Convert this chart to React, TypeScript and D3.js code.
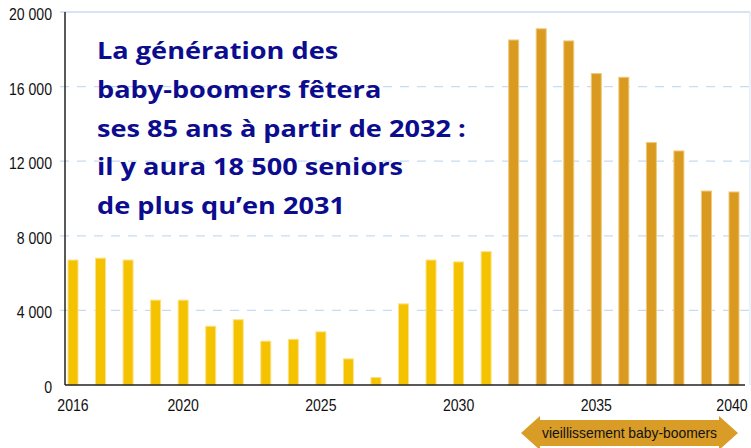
import React, { useEffect, useRef } from 'react';
import * as d3 from 'd3';

// Données
const years = d3.range(2016, 2041);
const seniors = [
  6700, 6800, 6700, 4550, 4550, 3150, 3500, 2350, 2450, 2850, 1400, 400,
  4350, 6700, 6600, 7150,
  18500, 19100, 18450, 16700, 16500, 13000, 12550, 10400, 10350
];
const yTicks = [0, 4000, 8000, 12000, 16000, 20000];
const xTickYears = [2016, 2020, 2025, 2030, 2035, 2040];
const titleLines = [
  'La génération des',
  'baby-boomers fêtera',
  'ses 85 ans à partir de 2032 :',
  'il y aura 18 500 seniors',
  'de plus qu’en 2031'
];
const arrowLabel = 'vieillissement baby-boomers';

export default function App() {
  const svgRef = useRef<SVGSVGElement>(null);
  const width = 751;
  const height = 448;

  useEffect(() => {
    if (!svgRef.current) return;
    const svg = d3.select(svgRef.current);
    svg.selectAll('*').remove();

    const x = d3.scalePoint<number>().domain(years).range([73, 734]);
    const y = d3.scaleLinear().domain([0, 20000]).range([385, 12]);
    const fmt = (v: number) => d3.format(',')(v).replace(',', ' ');
    const axisFont = 'Liberation Sans, Arial, sans-serif';

    // condense les libellés d'axe (police étroite dans l'original)
    const condense = function (this: SVGTextElement) {
      const len = this.getComputedTextLength();
      d3.select(this).attr('textLength', len * 0.88).attr('lengthAdjust', 'spacingAndGlyphs');
    };

    // Grille
    svg.append('g')
      .selectAll('line')
      .data(yTicks.filter(d => d > 0))
      .enter().append('line')
      .attr('x1', 60)
      .attr('x2', 750)
      .attr('y1', d => y(d))
      .attr('y2', d => y(d))
      .attr('stroke', '#c8dbf0')
      .attr('stroke-width', 1.3)
      .attr('stroke-dasharray', d => (d === 20000 ? null : '9,8'));

    svg.append('line')
      .attr('x1', 750).attr('x2', 750)
      .attr('y1', 12).attr('y2', 385)
      .attr('stroke', '#d5e3f3');

    // Étiquettes de l'axe Y
    svg.append('g')
      .selectAll('text')
      .data(yTicks)
      .enter().append('text')
      .attr('x', 52)
      .attr('y', d => y(d) + 8)
      .attr('text-anchor', 'end')
      .style('font-family', axisFont)
      .style('font-size', '16px')
      .attr('fill', '#111')
      .text(d => fmt(d))
      .each(condense);

    // Barres
    const bw = 10;
    svg.append('g')
      .selectAll('rect')
      .data(years)
      .enter().append('rect')
      .attr('x', d => (x(d) || 0) - bw / 2)
      .attr('y', (d, i) => y(seniors[i]))
      .attr('width', bw)
      .attr('height', (d, i) => y(0) - y(seniors[i]))
      .attr('fill', d => (d >= 2032 ? '#d99a1f' : '#f5c200'))
      .attr('stroke', d => (d >= 2032 ? '#efc97c' : '#fbe187'))
      .attr('stroke-width', 1);

    // Axes
    svg.append('line')
      .attr('x1', 65).attr('x2', 65)
      .attr('y1', 12).attr('y2', 385)
      .attr('stroke', '#222').attr('stroke-width', 1.5);
    svg.append('line')
      .attr('x1', 65).attr('x2', 745)
      .attr('y1', 385).attr('y2', 385)
      .attr('stroke', '#222').attr('stroke-width', 1.5);

    svg.append('g')
      .selectAll('text')
      .data(xTickYears)
      .enter().append('text')
      .attr('x', d => Math.min(x(d) || 0, width - 19))
      .attr('y', 411)
      .attr('text-anchor', 'middle')
      .style('font-family', axisFont)
      .style('font-size', '16px')
      .attr('fill', '#111')
      .text(d => d)
      .each(condense);

    // Flèche
    const ax0 = 521, ax1 = 738, cy = 433;
    const path = d3.path();
    path.moveTo(ax0, cy);
    path.lineTo(ax0 + 19, cy - 17);
    path.lineTo(ax0 + 19, cy - 13);
    path.lineTo(ax1 - 19, cy - 13);
    path.lineTo(ax1 - 19, cy - 17);
    path.lineTo(ax1, cy);
    path.lineTo(ax1 - 19, cy + 17);
    path.lineTo(ax1 - 19, cy + 13);
    path.lineTo(ax0 + 19, cy + 13);
    path.lineTo(ax0 + 19, cy + 17);
    path.closePath();
    svg.append('path')
      .attr('d', path.toString())
      .attr('fill', '#d99c26');
    svg.append('text')
      .attr('x', (ax0 + ax1) / 2)
      .attr('y', cy + 5)
      .attr('text-anchor', 'middle')
      .style('font-family', axisFont)
      .style('font-size', '14.5px')
      .attr('textLength', 175)
      .attr('lengthAdjust', 'spacingAndGlyphs')
      .attr('fill', '#111')
      .text(arrowLabel);

    // Titre
    const title = svg.append('g');
    const tx = 97;
    title.selectAll('text')
      .data(titleLines)
      .enter().append('text')
      .attr('x', 0)
      .attr('y', (d, i) => 59 + i * 38.8)
      .style('font-family', 'Open Sans, sans-serif')
      .style('font-size', '24px')
      .style('font-weight', 'bold')
      .attr('fill', '#0c0c8e')
      .text(d => d);
    // ajuste la largeur sur la ligne la plus longue (369 px dans l'original)
    const widest = d3.max(title.selectAll<SVGTextElement, string>('text').nodes(), n => n.getComputedTextLength()) || 369;
    title.attr('transform', `translate(${tx},0) scale(${369 / widest},1)`);
  }, []);

  return (
    <svg
      ref={svgRef}
      width={width}
      height={height}
      style={{ position: 'absolute', top: 0, left: 0, background: '#fff' }}
    />
  );
}
